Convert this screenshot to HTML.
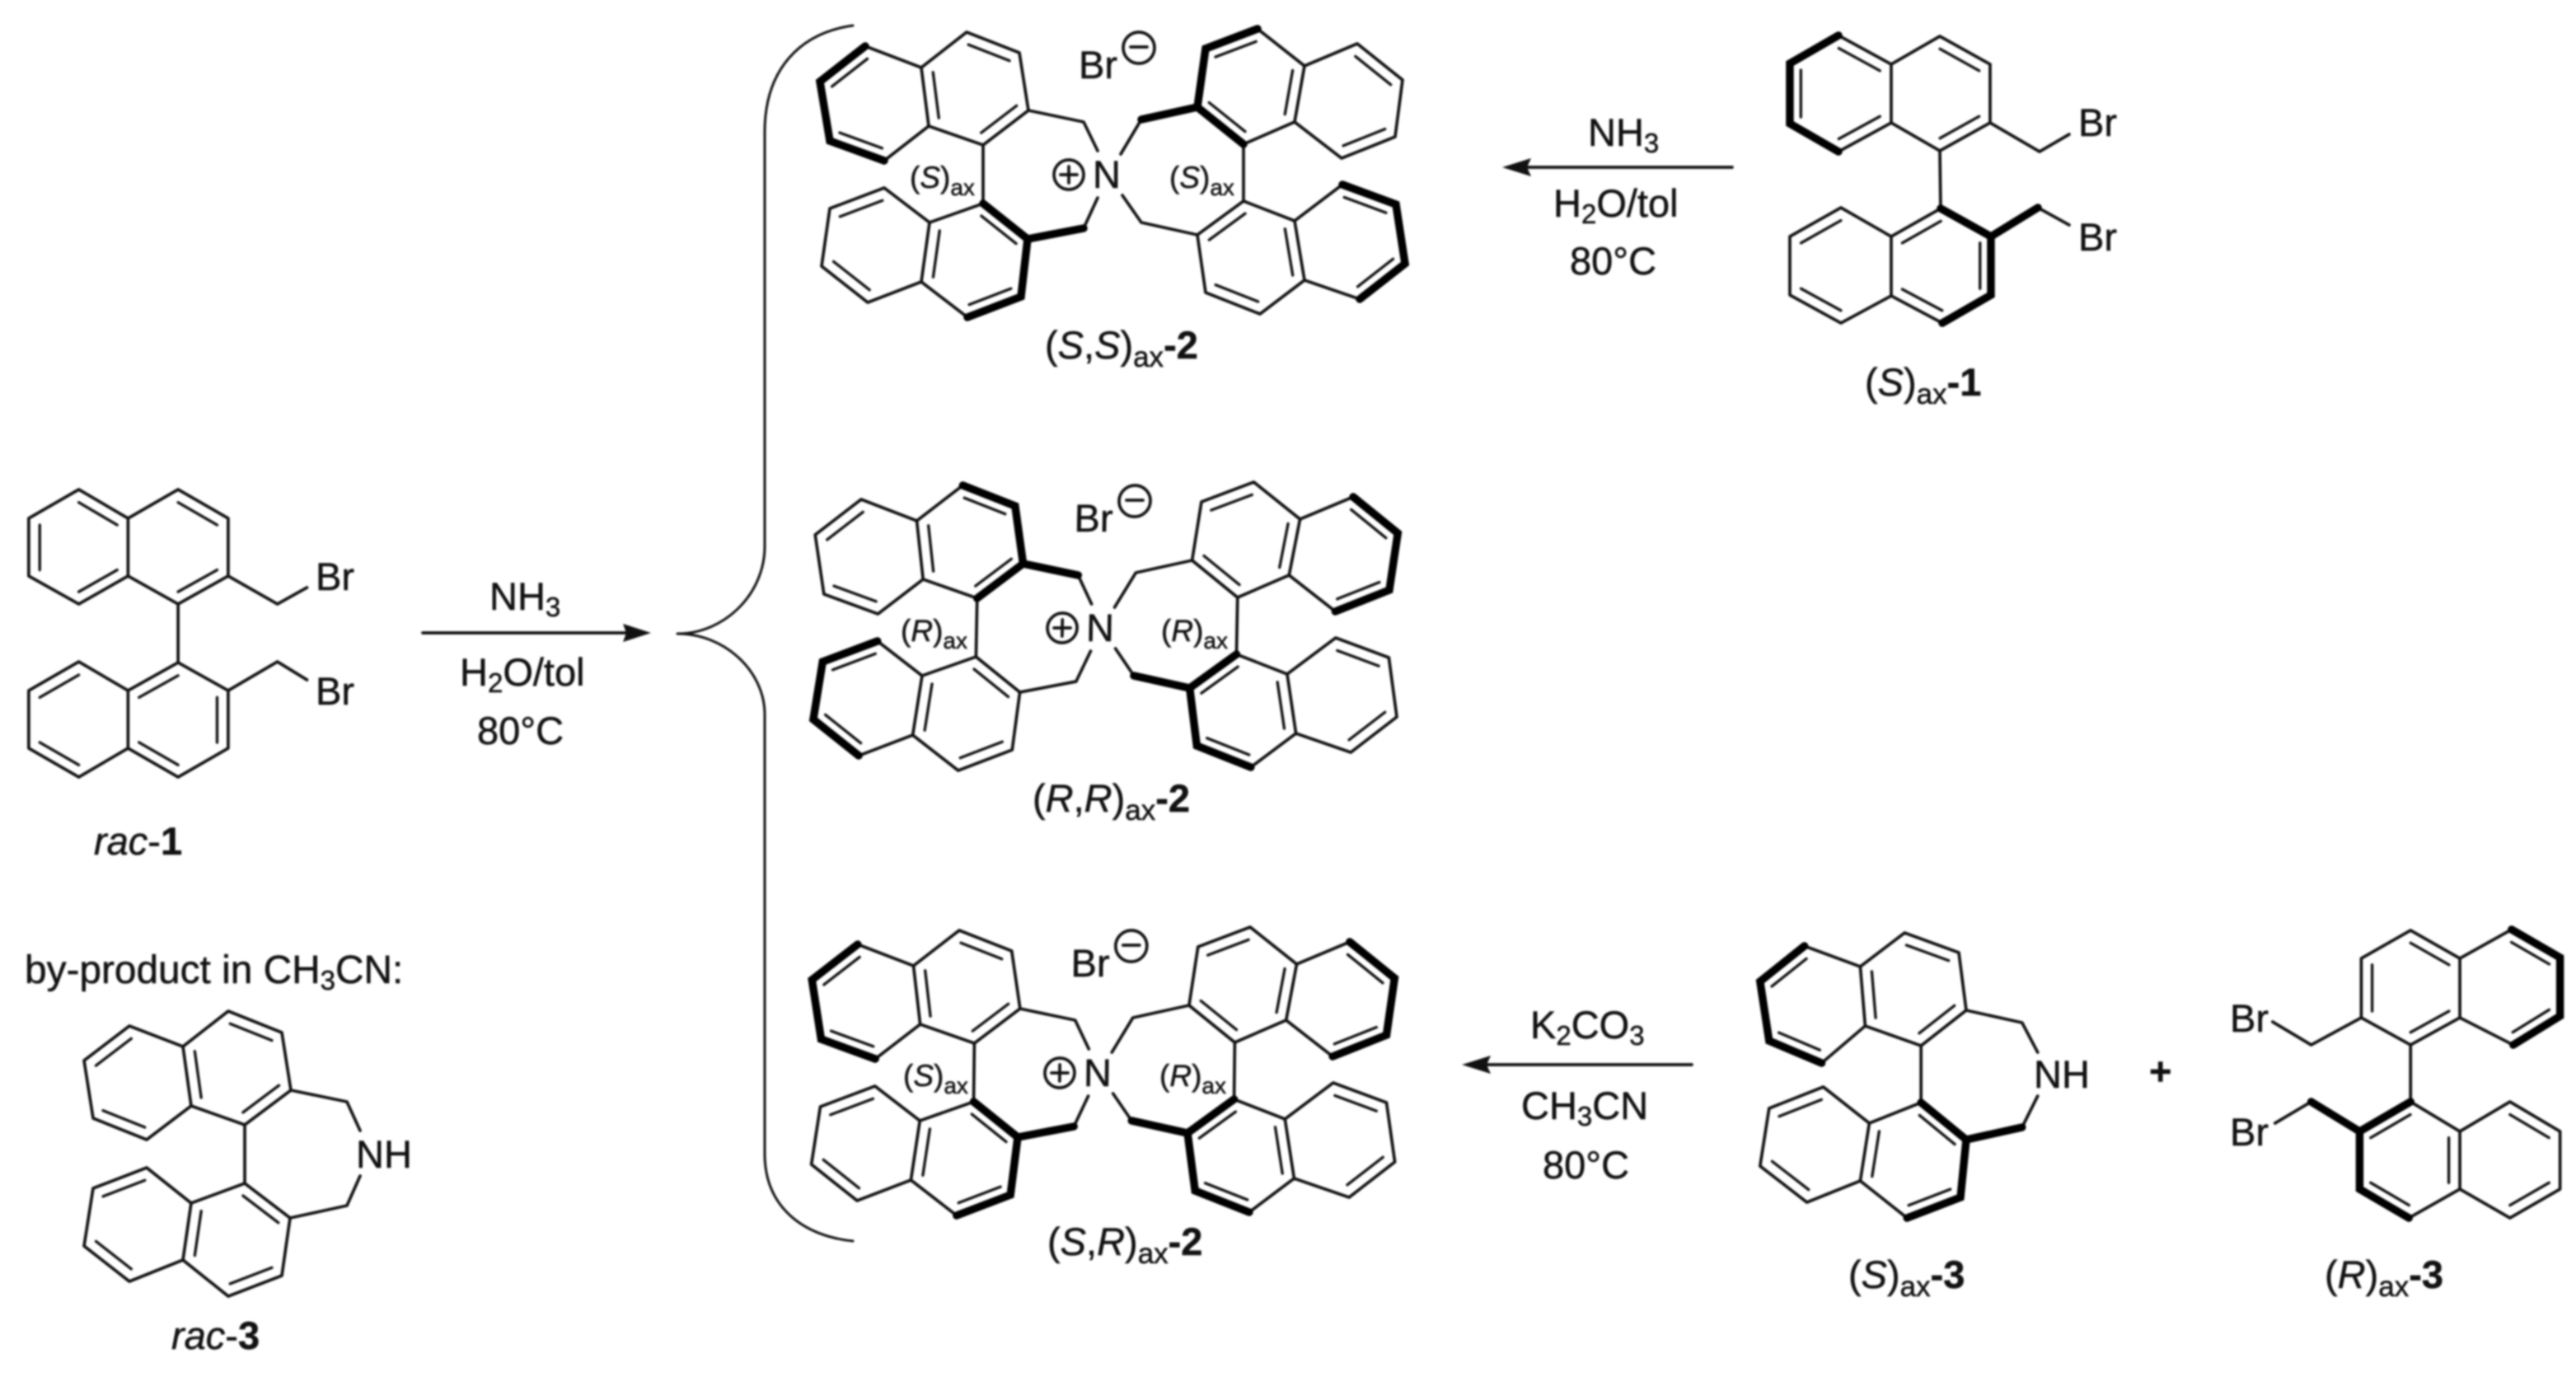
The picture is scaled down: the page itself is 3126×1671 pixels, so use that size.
<!DOCTYPE html>
<html lang="en">
<head>
<meta charset="utf-8">
<title>Reaction scheme</title>
<style>
html,body{margin:0;padding:0;background:#fff;width:3126px;height:1671px;overflow:hidden}
svg{display:block;filter:blur(1.1px)}
text{font-family:"Liberation Sans",Arial,sans-serif;font-size:47px;fill:#111;stroke:#111;stroke-width:.5px}
.i{font-style:italic}
.b{font-weight:bold}
.t,.k,.n,.c{fill:none;stroke:#111;stroke-linecap:round;stroke-linejoin:round}
.t{stroke-width:3.7}
.n{stroke-width:4.3}
.k{stroke-width:9.5;stroke:#000;stroke-linejoin:miter}
.c{stroke-width:3}
.m{font-size:37px}
.s{font-size:28px}
.u{font-size:35px}
</style>
</head>
<body>
<svg xmlns="http://www.w3.org/2000/svg" width="3126" height="1671" viewBox="0 0 3126 1671">
<defs>
<g id="c2">
<path class="t" d="M1050,56L995,99L1007,171L1073,195L1127,153L1118,82Z M1118,82L1173,39L1237,64L1248,134L1193,176L1127,153 M1248,134L1315,148L1332,183 M1193,176L1193,247 M1193,247L1128,270L1073,228L1007,253L997,323L1053,367L1118,342L1128,270 M1193,247L1247,290L1239,360L1174,385L1118,342 M1247,290L1315,277L1332,240 M1509,175L1453,130L1463,59L1526,35L1583,80L1571,148L1509,175 M1583,80L1647,53L1702,97L1693,166L1628,192L1571,148 M1453,130L1385,145L1360,187 M1509,175L1509,244 M1509,244L1571,268L1629,224L1694,248L1705,320L1650,363L1583,340L1571,268 M1509,244L1453,285L1463,355L1529,381L1583,340 M1453,285L1385,270L1362,237"/>
<path class="n" transform="matrix(.78 0 0 .78 233.5 27.7)" d="M1050,56L995,99 M1007,171L1073,195"/>
<path class="n" transform="matrix(.78 0 0 .78 260.2 23.8)" d="M1127,153L1118,82 M1173,39L1237,64 M1248,134L1193,176"/>
<path class="n" transform="matrix(.78 0 0 .78 233.9 65.5)" d="M1073,228L1007,253 M997,323L1053,367"/>
<path class="n" transform="matrix(.78 0 0 .78 260.4 69.4)" d="M1128,270L1118,342 M1174,385L1239,360 M1247,290L1193,247"/>
<path class="n" transform="matrix(.78 0 0 .78 333.9 23.1)" d="M1509,175L1453,130 M1463,59L1526,35 M1583,80L1571,148"/>
<path class="n" transform="matrix(.78 0 0 .78 360.2 27.1)" d="M1647,53L1702,97 M1693,166L1628,192"/>
<path class="n" transform="matrix(.78 0 0 .78 334 68.8)" d="M1509,244L1453,285 M1463,355L1529,381 M1583,340L1571,268"/>
<path class="n" transform="matrix(.78 0 0 .78 360.6 64.7)" d="M1629,224L1694,248 M1705,320L1650,363"/>
<circle class="t" cx="1382" cy="58" r="19"/>
<path class="t" d="M1372,57H1392"/>
<circle class="t" cx="1297" cy="212" r="18"/>
<path class="t" d="M1287,212H1307M1297,202V222"/>
</g>
</defs>

<!-- brace -->
<path class="c" d="M1035,31C970,40 928,85 928,160L928,663C928,720 880,769 822,769C880,769 928,815 928,867L928,1400C928,1465 975,1500 1035,1506"/>

<!-- arrows -->
<path class="t" d="M513,768H770"/>
<path fill="#111" d="M790,768L756,757L760,768L756,779Z"/>
<path class="t" d="M2102,203H1845"/>
<path fill="#111" d="M1823,203L1858,192L1853,203L1858,214Z"/>
<path class="t" d="M2053,1292H1795"/>
<path fill="#111" d="M1774,1292L1809,1281L1804,1292L1809,1303Z"/>

<!-- rac-1 -->
<g transform="matrix(.996 0 0 1 0 0)">
<path class="t" d="M96,594L35,629L35,699L96,733L156,699L156,629Z M156,629L217,594L278,629L278,699L217,733L156,699 M278,699L338,733L374,713 M217,733L217,804 M217,804L156,838L96,803L35,838L35,908L96,943L156,908L156,838 M217,804L278,838L278,908L217,943L156,908 M278,838L338,803L374,825"/>
<path class="n" transform="matrix(.78 0 0 .78 21.1 146.4)" d="M96,594L156,629 M35,629L35,699 M96,733L156,699"/>
<path class="n" transform="matrix(.78 0 0 .78 47.7 146.4)" d="M217,594L278,629 M278,699L217,733"/>
<path class="n" transform="matrix(.78 0 0 .78 21.1 192.7)" d="M96,803L35,838 M35,908L96,943"/>
<path class="n" transform="matrix(.78 0 0 .78 47.7 192.7)" d="M156,838L217,804 M278,838L278,908 M156,908L217,943"/>
</g>
<text x="383" y="716">Br</text>
<text x="383" y="855">Br</text>
<text x="114" y="1037"><tspan class="i">rac</tspan>-<tspan class="b">1</tspan></text>

<!-- rac arrow labels -->
<text x="594" y="740">NH<tspan font-size="33" dy="8">3</tspan></text>
<text x="558" y="832">H<tspan font-size="33" dy="8">2</tspan><tspan dy="-8">O/tol</tspan></text>
<text x="579" y="903">80°C</text>

<!-- rac-3 -->
<text x="30" y="1193" style="font-size:47.8px">by-product in CH<tspan font-size="33" dy="8">3</tspan><tspan dy="-8">CN:</tspan></text>
<path class="t" d="M157,1245L102,1287L113,1357L178,1383L232,1342L222,1270Z M222,1270L277,1227L342,1253L353,1323L297,1365L232,1342 M353,1323L421,1337L437,1372 M297,1365L297,1436 M297,1436L232,1460L178,1417L113,1442L102,1512L157,1555L222,1529L232,1460 M297,1436L352,1478L342,1548L277,1573L222,1529 M352,1478L421,1463L437,1427"/>
<path class="n" transform="matrix(.78 0 0 .78 36.9 289.2)" d="M157,1245L102,1287 M113,1357L178,1383"/>
<path class="n" transform="matrix(.78 0 0 .78 63.2 285.2)" d="M222,1270L232,1342 M277,1227L342,1253 M353,1323L297,1365"/>
<path class="n" transform="matrix(.78 0 0 .78 36.9 327)" d="M178,1417L113,1442 M102,1512L157,1555"/>
<path class="n" transform="matrix(.78 0 0 .78 63.2 330.9)" d="M232,1460L222,1529 M277,1573L342,1548 M352,1478L297,1436"/>
<text x="432" y="1417">NH</text>
<text x="208" y="1637"><tspan class="i">rac</tspan>-<tspan class="b">3</tspan></text>

<!-- (S,S)-2 -->
<use href="#c2"/>
<path class="k" d="M1050,56L995,99L1007,171L1073,195 M1193,247L1247,290L1315,277 M1247,290L1239,360L1174,385 M1509,175L1453,130L1385,145 M1453,130L1463,59L1526,35 M1629,224L1694,248L1705,320L1650,363"/>
<text x="1309" y="95">Br</text>
<text x="1326" y="228">N</text>
<text class="m" x="1104" y="228">(<tspan class="i">S</tspan>)<tspan class="s" dy="9">ax</tspan></text>
<text class="m" x="1419" y="228">(<tspan class="i">S</tspan>)<tspan class="s" dy="9">ax</tspan></text>
<text x="1268" y="435">(<tspan class="i">S</tspan>,<tspan class="i">S</tspan>)<tspan class="u" dy="10">ax</tspan><tspan dy="-10" class="b">-2</tspan></text>

<!-- (R,R)-2 -->
<g transform="matrix(1 0 -.019 1 -3.9 550)">
<use href="#c2"/>
<path class="k" d="M1173,39L1237,64L1248,134L1315,148 M1248,134L1193,176 M1073,228L1007,253L997,323L1053,367 M1647,53L1702,97L1693,166L1628,192 M1509,244L1453,285L1385,270 M1453,285L1463,355L1529,381"/>
<text x="1309" y="95">Br</text>
<text x="1326" y="228">N</text>
</g>
<text class="m" x="1093" y="778">(<tspan class="i">R</tspan>)<tspan class="s" dy="9">ax</tspan></text>
<text class="m" x="1409" y="778">(<tspan class="i">R</tspan>)<tspan class="s" dy="9">ax</tspan></text>
<text x="1253" y="985">(<tspan class="i">R</tspan>,<tspan class="i">R</tspan>)<tspan class="u" dy="10">ax</tspan><tspan dy="-10" class="b">-2</tspan></text>

<!-- (S,R)-2 -->
<g transform="matrix(1 0 -.012 1 -8.5 1090)">
<use href="#c2"/>
<path class="k" d="M1050,56L995,99L1007,171L1073,195 M1193,247L1247,290L1315,277 M1247,290L1239,360L1174,385 M1647,53L1702,97L1693,166L1628,192 M1509,244L1453,285L1385,270 M1453,285L1463,355L1529,381"/>
<text x="1309" y="95">Br</text>
<text x="1326" y="228">N</text>
</g>
<text class="m" x="1096" y="1318">(<tspan class="i">S</tspan>)<tspan class="s" dy="9">ax</tspan></text>
<text class="m" x="1407" y="1318">(<tspan class="i">R</tspan>)<tspan class="s" dy="9">ax</tspan></text>
<text x="1271" y="1523">(<tspan class="i">S</tspan>,<tspan class="i">R</tspan>)<tspan class="u" dy="10">ax</tspan><tspan dy="-10" class="b">-2</tspan></text>

<!-- top arrow labels -->
<text x="1927" y="177">NH<tspan font-size="33" dy="8">3</tspan></text>
<text x="1885" y="263">H<tspan font-size="33" dy="8">2</tspan><tspan dy="-8">O/tol</tspan></text>
<text x="1905" y="333">80°C</text>

<!-- (S)-1 -->
<path class="t" d="M2231,43L2172,77L2172,150L2231,184L2295,149L2295,78Z M2295,78L2354,44L2415,78L2415,149L2354,183L2295,149 M2415,149L2475,184L2511,163 M2354,183L2355,253 M2355,253L2295,287L2234,252L2172,287L2172,358L2234,392L2295,359L2295,287 M2355,253L2416,287L2416,358L2357,392L2295,359 M2416,287L2473,252L2511,273"/>
<path class="n" transform="matrix(.78 0 0 .78 491.2 25)" d="M2231,43L2295,78 M2172,77L2172,150 M2231,184L2295,149"/>
<path class="n" transform="matrix(.78 0 0 .78 518 25)" d="M2354,44L2415,78 M2415,149L2354,183"/>
<path class="n" transform="matrix(.78 0 0 .78 491.4 71)" d="M2234,252L2172,287 M2172,358L2234,392"/>
<path class="n" transform="matrix(.78 0 0 .78 518.3 71)" d="M2295,287L2355,253 M2416,287L2416,358 M2295,359L2357,392"/>
<path class="k" d="M2231,43L2172,77L2172,150L2231,184 M2355,253L2416,287L2473,252 M2416,287L2416,358L2357,392"/>
<text x="2522" y="165">Br</text>
<text x="2522" y="304">Br</text>
<text x="2263" y="480">(<tspan class="i">S</tspan>)<tspan class="u" dy="10">ax</tspan><tspan dy="-10" class="b">-1</tspan></text>

<!-- bottom arrow labels -->
<text x="1857" y="1260">K<tspan font-size="33" dy="8">2</tspan><tspan dy="-8">CO</tspan><tspan font-size="33" dy="8">3</tspan></text>
<text x="1846" y="1358">CH<tspan font-size="33" dy="8">3</tspan><tspan dy="-8">CN</tspan></text>
<text x="1872" y="1430">80°C</text>

<!-- (S)-3 -->
<g transform="matrix(.9967 0 0 1 6.9 0)">
<path class="t" d="M2190,1148L2136,1191L2147,1263L2211,1290L2264,1245L2258,1173Z M2258,1173L2312,1132L2378,1156L2387,1226L2332,1269L2264,1245 M2387,1226L2455,1241L2474,1277 M2332,1269L2332,1338 M2332,1338L2269,1363L2213,1319L2147,1345L2136,1415L2193,1459L2258,1433L2269,1363 M2332,1338L2387,1383L2380,1453L2315,1478L2258,1433 M2387,1383L2455,1368L2474,1330"/>
<path class="n" transform="matrix(.78 0 0 .78 484.2 268)" d="M2190,1148L2136,1191 M2147,1263L2211,1290"/>
<path class="n" transform="matrix(.78 0 0 .78 510.8 264)" d="M2258,1173L2264,1245 M2312,1132L2378,1156 M2387,1226L2332,1269"/>
<path class="n" transform="matrix(.78 0 0 .78 484.6 305.6)" d="M2213,1319L2147,1345 M2136,1415L2193,1459"/>
<path class="n" transform="matrix(.78 0 0 .78 511.2 309.8)" d="M2269,1363L2258,1433 M2315,1478L2380,1453 M2387,1383L2332,1338"/>
<path class="k" d="M2190,1148L2136,1191L2147,1263L2211,1290 M2332,1338L2387,1383L2455,1368 M2387,1383L2380,1453L2315,1478"/>
</g>
<text x="2468" y="1320">NH</text>
<text x="2243" y="1563">(<tspan class="i">S</tspan>)<tspan class="u" dy="10">ax</tspan><tspan dy="-10" class="b">-3</tspan></text>

<text x="2608" y="1316" class="b">+</text>

<!-- (R)-3 -->
<g transform="matrix(.9967 0 0 1 6.9 0)">
<path class="t" d="M3051,1128L3110,1162L3110,1233L3053,1268L2988,1235L2988,1163Z M2988,1163L2928,1129L2868,1163L2868,1235L2928,1268L2988,1235 M2868,1235L2807,1268L2760,1240 M2928,1268L2928,1337 M2928,1337L2988,1373L3049,1337L3110,1373L3110,1443L3049,1478L2988,1443L2988,1373 M2928,1337L2866,1373L2866,1443L2926,1478L2988,1443 M2866,1373L2807,1337L2763,1363"/>
<path class="n" transform="matrix(.78 0 0 .78 644.2 263.7)" d="M2928,1129L2988,1163 M2868,1163L2868,1235 M2928,1268L2988,1235"/>
<path class="n" transform="matrix(.78 0 0 .78 671 263.6)" d="M3051,1128L3110,1162 M3110,1233L3053,1268"/>
<path class="n" transform="matrix(.78 0 0 .78 643.9 309.7)" d="M2866,1373L2928,1337 M2866,1443L2926,1478 M2988,1373L2988,1443"/>
<path class="n" transform="matrix(.78 0 0 .78 670.8 309.7)" d="M3049,1337L3110,1373 M3110,1443L3049,1478"/>
<path class="k" d="M3051,1128L3110,1162L3110,1233L3053,1268 M2928,1337L2866,1373L2807,1337 M2866,1373L2866,1443L2926,1478"/>
</g>
<text x="2706" y="1252">Br</text>
<text x="2706" y="1390">Br</text>
<text x="2821" y="1563">(<tspan class="i">R</tspan>)<tspan class="u" dy="10">ax</tspan><tspan dy="-10" class="b">-3</tspan></text>
</svg>
</body>
</html>
